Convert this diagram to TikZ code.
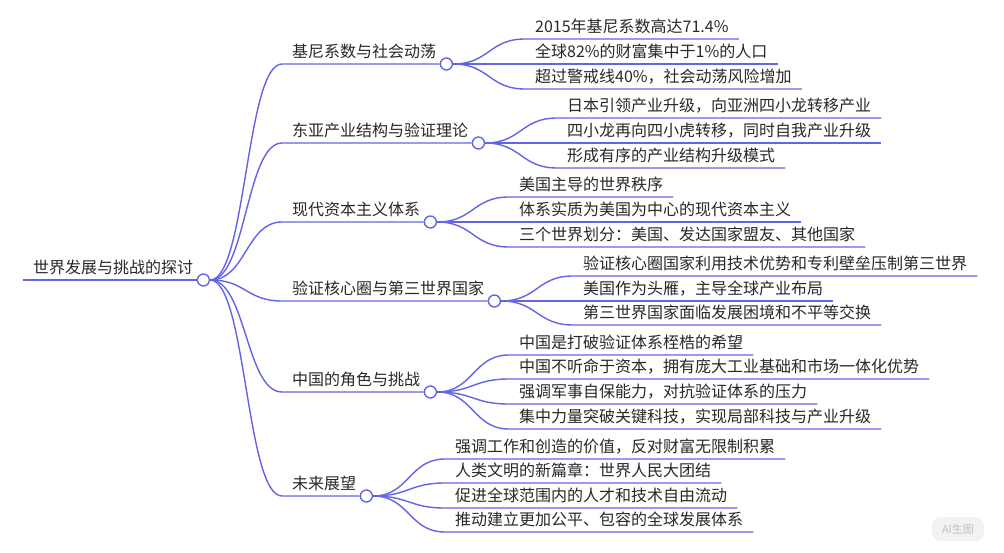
\documentclass[tikz,border=0pt]{standalone}
\usepackage{fontspec}
\setmainfont{Noto Sans CJK SC}
\usepackage{tikz}
\definecolor{mapline}{RGB}{100,100,230}
\definecolor{maptext}{RGB}{40,40,40}
\begin{document}
\begin{tikzpicture}[x=1pt, y=-1pt,
  ln/.style={draw=mapline, line width=1.4pt},
  lbl/.style={anchor=south west, inner xsep=10pt, inner ysep=0pt, text height=12pt, text depth=6pt, text=maptext, font=\fontsize{16}{18}\selectfont},
  dot/.style={circle, draw=mapline, line width=1.4pt, fill=white, minimum size=12pt, inner sep=0pt}]
\useasboundingbox[fill=white] (0,0) rectangle (1004,553);
\node[lbl] (root) at (23,280) {世界发展与挑战的探讨};
\node[dot] (d0) at (root.south east) {};
\draw[ln] (root.south west) -- (d0.west);
\node[lbl] (b1) at (282,64) {基尼系数与社会动荡};
\node[dot] (d1) at (b1.south east) {};
\draw[ln] (d0.east) .. controls +(36,0) and +(-36,0) .. (b1.south west) -- (d1.west);
\node[lbl] (b2) at (282,143) {东亚产业结构与验证理论};
\node[dot] (d2) at (b2.south east) {};
\draw[ln] (d0.east) .. controls +(36,0) and +(-36,0) .. (b2.south west) -- (d2.west);
\node[lbl] (b3) at (282,222) {现代资本主义体系};
\node[dot] (d3) at (b3.south east) {};
\draw[ln] (d0.east) .. controls +(36,0) and +(-36,0) .. (b3.south west) -- (d3.west);
\node[lbl] (b4) at (282,301) {验证核心圈与第三世界国家};
\node[dot] (d4) at (b4.south east) {};
\draw[ln] (d0.east) .. controls +(36,0) and +(-36,0) .. (b4.south west) -- (d4.west);
\node[lbl] (b5) at (282,392) {中国的角色与挑战};
\node[dot] (d5) at (b5.south east) {};
\draw[ln] (d0.east) .. controls +(36,0) and +(-36,0) .. (b5.south west) -- (d5.west);
\node[lbl] (b6) at (282,496) {未来展望};
\node[dot] (d6) at (b6.south east) {};
\draw[ln] (d0.east) .. controls +(36,0) and +(-36,0) .. (b6.south west) -- (d6.west);
\node[lbl] (l11) at (525,39) {2015年基尼系数高达71.4\%};
\draw[ln] (d1.east) .. controls +(36,0) and +(-36,0) .. (l11.south west) -- (l11.south east);
\node[lbl] (l12) at (525,64) {全球82\%的财富集中于1\%的人口};
\draw[ln] (d1.east) .. controls +(36,0) and +(-36,0) .. (l12.south west) -- (l12.south east);
\node[lbl] (l13) at (525,89) {超过警戒线40\%，社会动荡风险增加};
\draw[ln] (d1.east) .. controls +(36,0) and +(-36,0) .. (l13.south west) -- (l13.south east);
\node[lbl] (l21) at (557,118) {日本引领产业升级，向亚洲四小龙转移产业};
\draw[ln] (d2.east) .. controls +(36,0) and +(-36,0) .. (l21.south west) -- (l21.south east);
\node[lbl] (l22) at (557,143) {四小龙再向四小虎转移，同时自我产业升级};
\draw[ln] (d2.east) .. controls +(36,0) and +(-36,0) .. (l22.south west) -- (l22.south east);
\node[lbl] (l23) at (557,168) {形成有序的产业结构升级模式};
\draw[ln] (d2.east) .. controls +(36,0) and +(-36,0) .. (l23.south west) -- (l23.south east);
\node[lbl] (l31) at (509,197) {美国主导的世界秩序};
\draw[ln] (d3.east) .. controls +(36,0) and +(-36,0) .. (l31.south west) -- (l31.south east);
\node[lbl] (l32) at (509,222) {体系实质为美国为中心的现代资本主义};
\draw[ln] (d3.east) .. controls +(36,0) and +(-36,0) .. (l32.south west) -- (l32.south east);
\node[lbl] (l33) at (509,247) {三个世界划分：美国、发达国家盟友、其他国家};
\draw[ln] (d3.east) .. controls +(36,0) and +(-36,0) .. (l33.south west) -- (l33.south east);
\node[lbl] (l41) at (573,276) {验证核心圈国家利用技术优势和专利壁垒压制第三世界};
\draw[ln] (d4.east) .. controls +(36,0) and +(-36,0) .. (l41.south west) -- (l41.south east);
\node[lbl] (l42) at (573,301) {美国作为头雁，主导全球产业布局};
\draw[ln] (d4.east) .. controls +(36,0) and +(-36,0) .. (l42.south west) -- (l42.south east);
\node[lbl] (l43) at (573,325) {第三世界国家面临发展困境和不平等交换};
\draw[ln] (d4.east) .. controls +(36,0) and +(-36,0) .. (l43.south west) -- (l43.south east);
\node[lbl] (l51) at (509,355) {中国是打破验证体系桎梏的希望};
\draw[ln] (d5.east) .. controls +(36,0) and +(-36,0) .. (l51.south west) -- (l51.south east);
\node[lbl] (l52) at (509,379) {中国不听命于资本，拥有庞大工业基础和市场一体化优势};
\draw[ln] (d5.east) .. controls +(36,0) and +(-36,0) .. (l52.south west) -- (l52.south east);
\node[lbl] (l53) at (509,404) {强调军事自保能力，对抗验证体系的压力};
\draw[ln] (d5.east) .. controls +(36,0) and +(-36,0) .. (l53.south west) -- (l53.south east);
\node[lbl] (l54) at (509,429) {集中力量突破关键科技，实现局部科技与产业升级};
\draw[ln] (d5.east) .. controls +(36,0) and +(-36,0) .. (l54.south west) -- (l54.south east);
\node[lbl] (l61) at (445,459) {强调工作和创造的价值，反对财富无限制积累};
\draw[ln] (d6.east) .. controls +(36,0) and +(-36,0) .. (l61.south west) -- (l61.south east);
\node[lbl] (l62) at (445,483) {人类文明的新篇章：世界人民大团结};
\draw[ln] (d6.east) .. controls +(36,0) and +(-36,0) .. (l62.south west) -- (l62.south east);
\node[lbl] (l63) at (445,508) {促进全球范围内的人才和技术自由流动};
\draw[ln] (d6.east) .. controls +(36,0) and +(-36,0) .. (l63.south west) -- (l63.south east);
\node[lbl] (l64) at (445,532) {推动建立更加公平、包容的全球发展体系};
\draw[ln] (d6.east) .. controls +(36,0) and +(-36,0) .. (l64.south west) -- (l64.south east);
\node[rounded corners=9pt, fill=black!5, text=black!25, font=\fontsize{11}{12}\selectfont, minimum width=52pt, minimum height=24pt] (wm) at (958,529) {AI生图};
\end{tikzpicture}
\end{document}
